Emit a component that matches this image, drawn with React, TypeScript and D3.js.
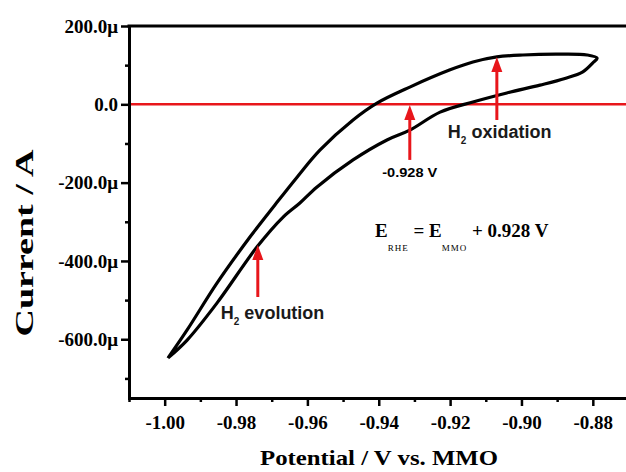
import { useEffect, useRef } from "react";
import * as d3 from "d3";

// CV loop: potential (V vs. MMO), current (µA)
const anodicPotential = [
  -0.9991, -0.9937, -0.9853, -0.9761, -0.9691, -0.9629, -0.9565, -0.9472, -0.9405,
  -0.9313, -0.92, -0.9136, -0.9069, -0.8996, -0.89, -0.8816, -0.8788,
];
const anodicCurrent = [
  -648, -576, -456, -339, -257, -186, -117, -40, 3, 44, 88, 108, 121, 126, 128, 126, 118,
];
const cathodicPotential = [
  -0.88, -0.8828, -0.8878, -0.8948, -0.9041, -0.9136, -0.9228, -0.9313, -0.9377,
  -0.9472, -0.9573, -0.9621, -0.9668, -0.9741, -0.9853, -0.9937, -0.9991,
];
const cathodicCurrent = [
  106, 83, 66, 49, 29, 6, -20, -66, -91, -142, -211, -252, -288, -364, -507, -602, -648,
];

const xTicks = [-1.0, -0.98, -0.96, -0.94, -0.92, -0.9, -0.88];
const xTickLabels = ["-1.00", "-0.98", "-0.96", "-0.94", "-0.92", "-0.90", "-0.88"];
const xMinorTicks = [-1.01, -0.99, -0.97, -0.95, -0.93, -0.91, -0.89];
const yTicks = [200, 0, -200, -400, -600];
const yTickLabels = ["200.0\u03bc", "0.0", "-200.0\u03bc", "-400.0\u03bc", "-600.0\u03bc"];
const yMinorTicks = [100, -100, -300, -500, -700];

// red arrows: potential, tip current, tail current
const arrowPotential = [-0.9313, -0.9069, -0.9739];
const arrowTip = [-2, 121, -359];
const arrowTail = [-142, -40, -492];

const serif = "Liberation Serif, Times New Roman, serif";
const sans = "Liberation Sans, Arial, sans-serif";
const red = "#e8161b";

const App = () => {
  const svgRef = useRef<SVGSVGElement>(null);

  useEffect(() => {
    if (!svgRef.current) return;
    const width = 626;
    const height = 472;
    const margin = { top: 26, left: 129 };
    const innerWidth = 499.5;
    const innerHeight = 372;

    const svg = d3.select(svgRef.current);
    svg.selectAll("*").remove();
    svg.attr("width", width).attr("height", height);

    svg.append("rect").attr("width", width).attr("height", height).attr("fill", "#fff");

    const g = svg.append("g").attr("transform", `translate(${margin.left}, ${margin.top})`);

    const xScale = d3.scaleLinear().domain([-1.01, -0.87]).range([0, innerWidth]);
    const yScale = d3.scaleLinear().domain([-750, 200]).range([innerHeight, 0]);

    // zero current line
    g.append("line")
      .attr("x1", 1.5)
      .attr("x2", innerWidth)
      .attr("y1", yScale(0))
      .attr("y2", yScale(0))
      .attr("stroke", red)
      .attr("stroke-width", 2.5);

    // the loop
    const loop = anodicPotential
      .map((p, i) => [p, anodicCurrent[i]])
      .concat(cathodicPotential.map((p, i) => [p, cathodicCurrent[i]]));

    const lineGenerator = d3
      .line<number[]>()
      .x((d) => xScale(d[0]))
      .y((d) => yScale(d[1]))
      .curve(d3.curveCatmullRom.alpha(0.5));

    g.append("path")
      .attr("d", lineGenerator(loop))
      .attr("fill", "none")
      .attr("stroke", "#000")
      .attr("stroke-width", 3.2)
      .attr("stroke-linejoin", "round");

    // axes
    g.append("g")
      .attr("transform", `translate(0, ${innerHeight})`)
      .call(
        d3
          .axisBottom(xScale)
          .tickValues(xTicks)
          .tickFormat((_, i) => xTickLabels[i])
          .tickSize(8)
          .tickSizeOuter(0)
          .tickPadding(10)
      );
    g.append("g")
      .attr("transform", `translate(0, ${innerHeight})`)
      .call(d3.axisBottom(xScale).tickValues(xMinorTicks).tickFormat(() => "").tickSize(4).tickSizeOuter(0))
      .select(".domain")
      .remove();

    g.append("g").call(
      d3
        .axisLeft(yScale)
        .tickValues(yTicks)
        .tickFormat((_, i) => yTickLabels[i])
        .tickSize(8)
        .tickSizeOuter(0)
        .tickPadding(3)
    );
    g.append("g")
      .call(d3.axisLeft(yScale).tickValues(yMinorTicks).tickFormat(() => "").tickSize(4).tickSizeOuter(0))
      .select(".domain")
      .remove();

    g.selectAll("g").attr("font-family", serif);
    g.selectAll(".domain").attr("stroke", "#000").attr("stroke-width", 3).attr("stroke-linecap", "square");
    g.selectAll(".tick line").attr("stroke", "#000").attr("stroke-width", 2.5);
    g.selectAll(".tick text")
      .attr("fill", "#000")
      .attr("font-family", serif)
      .attr("font-weight", "bold")
      .attr("font-size", 19);

    // top frame line
    g.append("line")
      .attr("x1", 0)
      .attr("x2", innerWidth)
      .attr("y1", 0)
      .attr("y2", 0)
      .attr("stroke", "#000")
      .attr("stroke-width", 3)
      .attr("stroke-linecap", "square");

    // axis titles
    svg.append("text")
      .attr("transform", `translate(33, 243) rotate(-90)`)
      .attr("text-anchor", "middle")
      .attr("textLength", 187)
      .attr("lengthAdjust", "spacingAndGlyphs")
      .attr("font-family", serif)
      .attr("font-weight", "bold")
      .attr("font-size", 26)
      .text("Current / A");

    svg.append("text")
      .attr("x", 379)
      .attr("y", 465)
      .attr("text-anchor", "middle")
      .attr("textLength", 238)
      .attr("lengthAdjust", "spacingAndGlyphs")
      .attr("font-family", serif)
      .attr("font-weight", "bold")
      .attr("font-size", 22)
      .text("Potential / V vs. MMO");

    // arrows
    const headLen = 15;
    const headHalf = 5.5;
    arrowPotential.forEach((p, i) => {
      const ax = xScale(p);
      const tipY = yScale(arrowTip[i]);
      const tailY = yScale(arrowTail[i]);
      g.append("line")
        .attr("x1", ax)
        .attr("x2", ax)
        .attr("y1", tailY)
        .attr("y2", tipY + headLen - 1)
        .attr("stroke", red)
        .attr("stroke-width", 3);
      g.append("path")
        .attr("d", `M${ax},${tipY} L${ax - headHalf},${tipY + headLen} L${ax + headHalf},${tipY + headLen} Z`)
        .attr("fill", red);
    });

    // arrow labels
    g.append("text")
      .attr("x", xScale(arrowPotential[0]))
      .attr("y", yScale(arrowTail[0]) + 17)
      .attr("text-anchor", "middle")
      .attr("font-family", sans)
      .attr("font-weight", "bold")
      .attr("font-size", 13)
      .attr("textLength", 55)
      .attr("lengthAdjust", "spacingAndGlyphs")
      .text("-0.928 V");

    const h2Label = (x: number, y: number, rest: string) => {
      const t = g.append("text")
        .attr("x", x)
        .attr("y", y)
        .attr("font-family", sans)
        .attr("font-size", 18)
        .attr("font-weight", "bold")
        .attr("fill", "#1a1a1a");
      t.append("tspan").text("H");
      t.append("tspan").attr("dy", 6).attr("font-size", 10).text("2");
      t.append("tspan").attr("dy", -6).text(" " + rest);
    };
    h2Label(xScale(arrowPotential[1]) - 49, yScale(arrowTail[1]) + 18, "oxidation");
    h2Label(xScale(arrowPotential[2]) - 37, yScale(arrowTail[2]) + 22, "evolution");

    // E_RHE = E_MMO + 0.928 V
    const eq = svg.append("text")
      .attr("x", 375)
      .attr("y", 237)
      .attr("font-family", serif)
      .attr("font-weight", "bold")
      .attr("font-size", 19);
    eq.append("tspan").text("E");
    eq.append("tspan").attr("dy", 14).attr("font-size", 9).attr("font-weight", "normal").attr("letter-spacing", 1).text("RHE");
    eq.append("tspan").attr("dy", -14).text(" = E");
    eq.append("tspan").attr("dy", 14).attr("font-size", 9).attr("font-weight", "normal").attr("letter-spacing", 1).text("MMO");
    eq.append("tspan").attr("dy", -14).text(" + 0.928 V");
  }, []);

  return (
    <svg ref={svgRef} style={{ position: "absolute", left: 0, top: 0, display: "block" }}></svg>
  );
};

export default App;
